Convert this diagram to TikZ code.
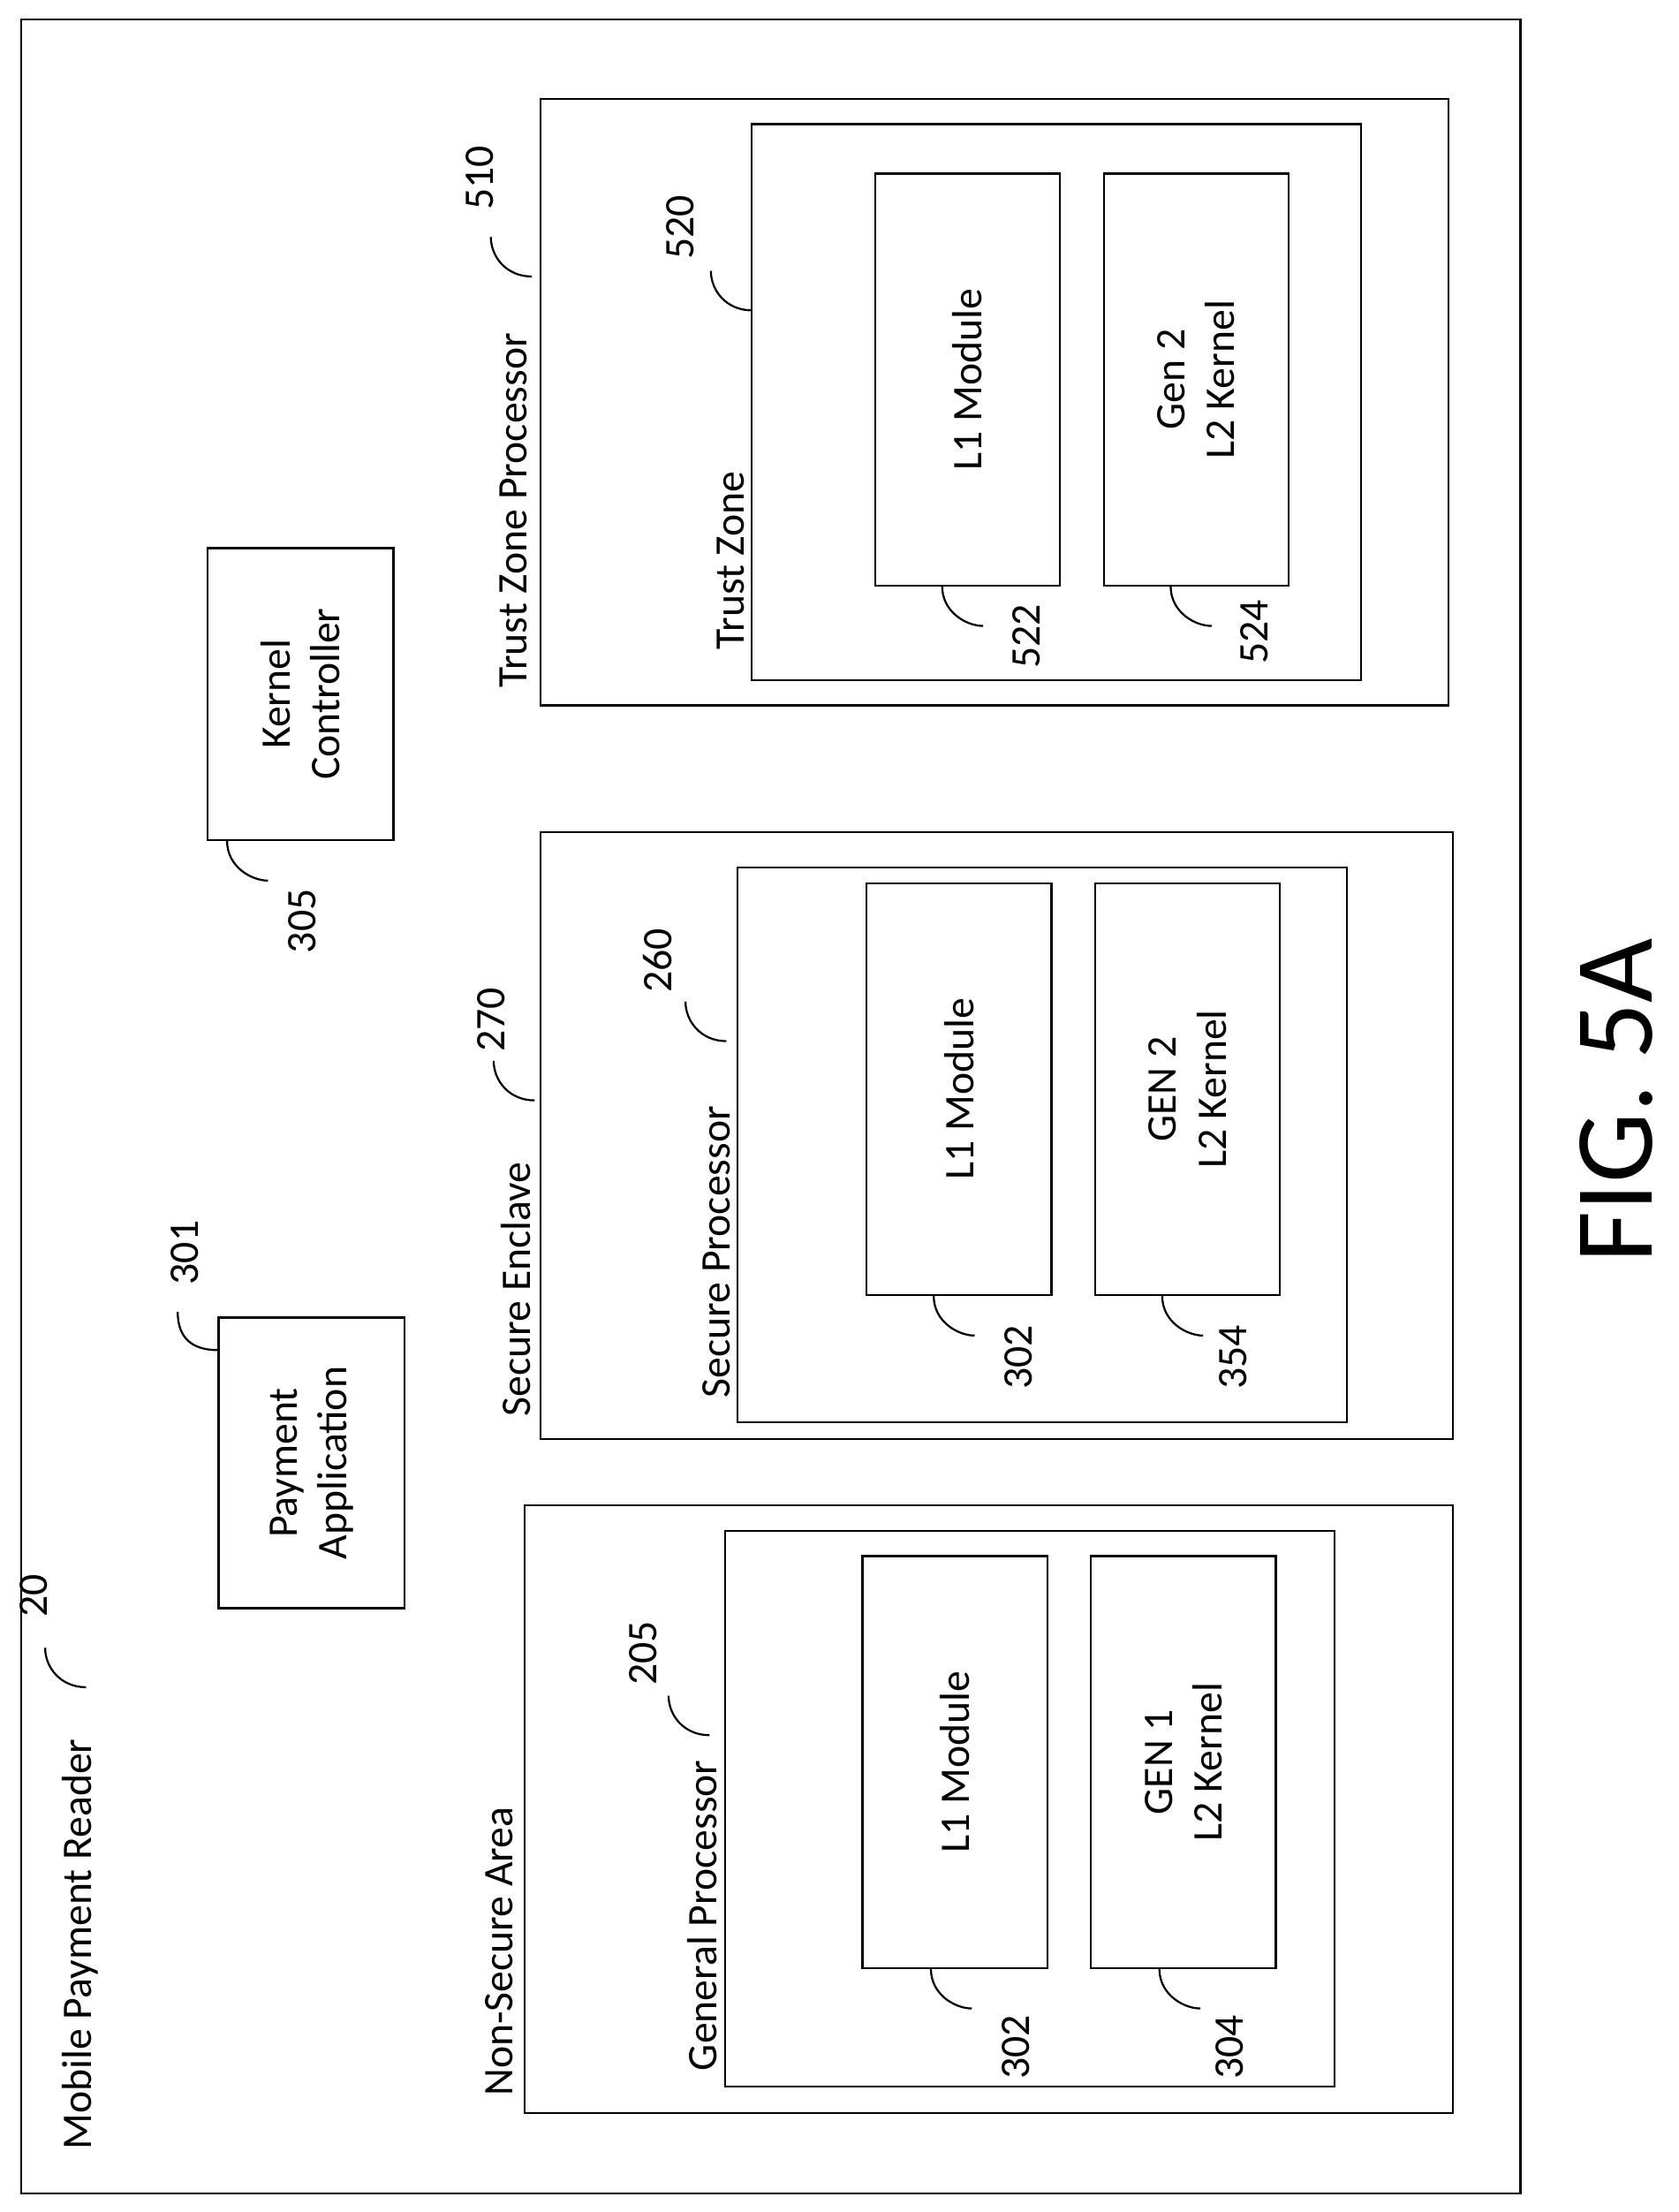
\documentclass[tikz,border=0pt]{standalone}
\usepackage{fontspec}
\setmainfont{Carlito}
\usetikzlibrary{positioning}

\tikzset{
  module/.style={draw, thick, minimum width=131*0.02cm, minimum height=292*0.02cm},
  lbl/.style={rotate=90, font=\fontsize{17}{20}\selectfont},
  tag/.style={rotate=90, font=\fontsize{17}{20}\selectfont},
  lead/.style={thick}
}
% leader from a box edge, bending down and to the right
\newcommand{\downlead}[1]{\draw[lead] (#1) .. controls ++(0,18) and ++(-12,0) .. ++(29,28);}
% leader from a frame edge, bending up and to the left
\newcommand{\uplead}[1]{\draw[lead] (#1) .. controls ++(-18,0) and ++(0,14) .. ++(-29,-28);}

\begin{document}
\begin{tikzpicture}[x=0.02cm, y=-0.02cm]
	\useasboundingbox (0,0) rectangle (1190,1568);
	\draw[thick] (15,14) rectangle (1078,1555);

	% frames
	\draw[thick] (372,1067) rectangle (1030,1498);
	\draw[thick] (514,1085) rectangle (946,1479);
	\draw[thick] (383,590) rectangle (1030,1020);
	\draw[thick] (523,615) rectangle (955,1008);
	\draw[thick] (383,70) rectangle (1027,500);
	\draw[thick] (533,88) rectangle (965,482);

	% frame titles
	\node[lbl, anchor=west] (mpr) at (57,1530) {Mobile Payment Reader};
	\node[lbl, anchor=west] (nsa) at (354,1492) {Non-Secure Area};
	\node[lbl, anchor=west] (gp) at (498,1474) {General Processor};
	\node[lbl, anchor=west] (se) at (366,1010) {Secure Enclave};
	\node[lbl, anchor=west] (sp) at (508,997) {Secure Processor};
	\node[lbl, anchor=west] (tzp) at (364,494) {Trust Zone Processor};
	\node[lbl, anchor=west] (tz) at (518,467) {Trust Zone};

	% modules
	\node[module] (l1a) at (677,1249) {};
	\node[lbl] at (l1a) {L1 Module};
	\node[module] (g1) at (839,1249) {};
	\node[lbl, align=center] at (g1) {GEN 1\\L2 Kernel};
	\node[module] (l1b) at (680,772) {};
	\node[lbl] at (l1b) {L1 Module};
	\node[module] (g2) at (842,772) {};
	\node[lbl, align=center] at (g2) {GEN 2\\L2 Kernel};
	\node[module] (l1c) at (686,269) {};
	\node[lbl] at (l1c) {L1 Module};
	\node[module] (g3) at (848,269) {};
	\node[lbl, align=center] at (g3) {Gen 2\\L2 Kernel};
	\node[draw, thick, minimum width=132*0.02cm, minimum height=207*0.02cm] (kc) at (213,492) {};
	\node[lbl, align=center] at (kc) {Kernel\\Controller};
	\node[draw, thick, minimum width=132*0.02cm, minimum height=206*0.02cm] (pa) at (221,1037) {};
	\node[lbl, align=center] at (pa) {Payment\\Application};

	% reference numerals
	\node[tag] (n20) at (24,1131) {20};
	\node[tag] (n205) at (456,1172) {205};
	\node[tag] (n302a) at (720,1451) {302};
	\node[tag] (n304) at (872,1451) {304};
	\node[tag] (n270) at (348,723) {270};
	\node[tag] (n260) at (466,681) {260};
	\node[tag] (n302b) at (722,962) {302};
	\node[tag] (n354) at (874,962) {354};
	\node[tag] (n510) at (340,126) {510};
	\node[tag] (n520) at (482,161) {520};
	\node[tag] (n522) at (728,451) {522};
	\node[tag] (n524) at (889,448) {524};
	\node[tag] (n305) at (214,653) {305};
	\node[tag] (n301) at (131,888) {301};

	% leaders
	\uplead{61,1196}
	\uplead{503,1230}
	\uplead{379,780}
	\uplead{515,738}
	\uplead{377,196}
	\uplead{533,220}
	\downlead{l1a.south -| 660,0}
	\downlead{g1.south -| 822,0}
	\downlead{l1b.south -| 662,0}
	\downlead{g2.south -| 824,0}
	\downlead{l1c.south -| 668,0}
	\downlead{g3.south -| 830,0}
	\downlead{kc.south -| 161,0}
	\draw[lead] (126,930) .. controls (126,950) and (138,957) .. (pa.west |- 0,957);

	\node[rotate=90, font=\fontsize{45}{50}\selectfont] (fig) at (1146,780) {FIG. 5A};
\end{tikzpicture}
\end{document}
